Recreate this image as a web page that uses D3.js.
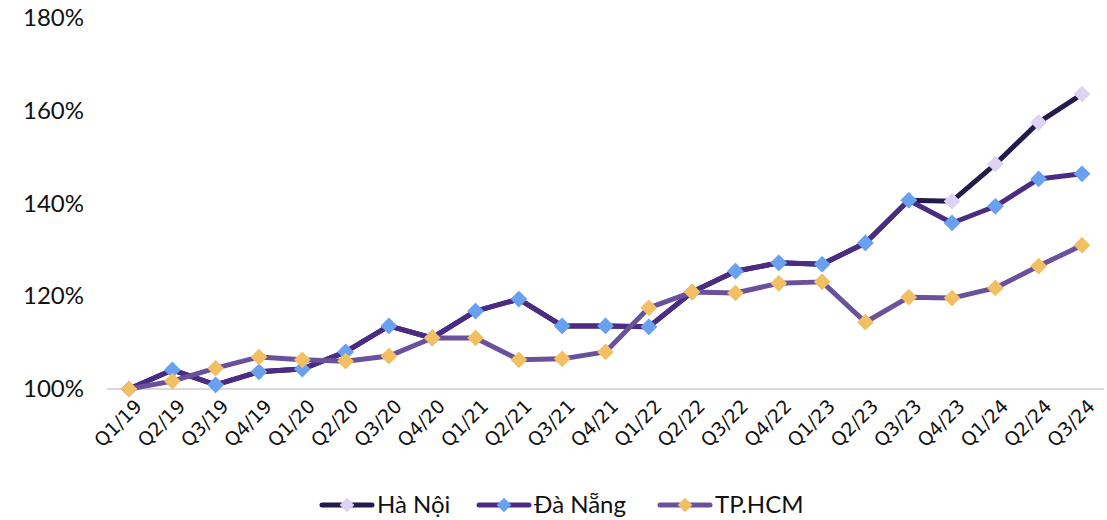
<!DOCTYPE html>
<html>
<head>
<meta charset="utf-8">
<script src="https://cdn.jsdelivr.net/npm/d3@7"></script>
<style>
  body { margin: 0; background: #fff; }
  svg { display: block; }
  .xlab { font-family: "DejaVu Sans", Verdana, sans-serif; font-size: 19px; }
</style>
</head>
<body>
<svg id="chart" width="1107" height="520"></svg>
<script>
var svg = d3.select("#chart");

var quarters = ["Q1/19","Q2/19","Q3/19","Q4/19","Q1/20","Q2/20","Q3/20","Q4/20",
  "Q1/21","Q2/21","Q3/21","Q4/21","Q1/22","Q2/22","Q3/22","Q4/22",
  "Q1/23","Q2/23","Q3/23","Q4/23","Q1/24","Q2/24","Q3/24"];

var haNoi = [100, 104.1, 100.9, 103.7, 104.3, 108, 113.6, 111, 116.8, 119.4, 113.6, 113.6,
  113.4, 120.9, 125.4, 127.2, 126.9, 131.5, 140.7, 140.5, 148.5, 157.5, 163.6];
var daNang = [100, 104.1, 100.9, 103.7, 104.3, 108, 113.6, 111, 116.8, 119.4, 113.6, 113.6,
  113.4, 120.9, 125.4, 127.2, 126.9, 131.5, 140.7, 135.8, 139.4, 145.3, 146.4];
var hcm = [100, 101.7, 104.5, 106.9, 106.3, 106.0, 107.1, 111, 111, 106.3, 106.5, 108,
  117.5, 120.9, 120.7, 122.8, 123.1, 114.4, 119.8, 119.6, 121.8, 126.5, 131];

var yTicks = [100, 120, 140, 160, 180];

var series = [
  {name: "Hà Nội", values: haNoi, line: "#241a4c", marker: "#ddd3f3"},
  {name: "Đà Nẵng", values: daNang, line: "#4b2c85", marker: "#6aa0f0"},
  {name: "TP.HCM", values: hcm, line: "#6a519c", marker: "#f3bf63"}
];

// plot box (named to avoid window.top)
var plotLeft = 107, plotRight = 1104, plotTop = 18, plotBottom = 389;

var xScale = d3.scalePoint()
  .domain(quarters)
  .range([129, 1082]);

var yScale = d3.scaleLinear()
  .domain([100, 180])
  .range([plotBottom, plotTop]);

// y labels
var yAxis = d3.axisLeft(yScale)
  .tickValues(yTicks)
  .tickSize(0)
  .tickPadding(0)
  .tickFormat(function(d){ return d + "%"; });

var yg = svg.append("g")
  .attr("transform", "translate(84,0)")
  .call(yAxis);
yg.select(".domain").remove();
yg.selectAll("text")
  .attr("fill", "#111")
  .style("font-family", "Lato, 'Noto Sans', sans-serif")
  .style("font-size", "24px");

// baseline
svg.append("line")
  .attr("x1", plotLeft).attr("x2", plotRight)
  .attr("y1", yScale(100)).attr("y2", yScale(100))
  .attr("stroke", "#d9d9d9")
  .attr("stroke-width", 2);

// x labels, rotated
var xAxis = d3.axisBottom(xScale).tickSize(0).tickPadding(0);
var xg = svg.append("g")
  .attr("transform", "translate(0," + (plotBottom + 12) + ")")
  .attr("font-family", null)
  .attr("font-size", null)
  .call(xAxis);
xg.attr("font-family", null).attr("font-size", null);
xg.select(".domain").remove();
xg.selectAll(".tick text")
  .attr("class", "xlab")
  .attr("fill", "#111")
  .attr("text-anchor", "end")
  .attr("x", 5)
  .attr("y", 0)
  .attr("dy", "0.75em")
  .attr("transform", "rotate(-45)");

var line = d3.line()
  .x(function(d, i){ return xScale(quarters[i]); })
  .y(function(d){ return yScale(d); });

var diamond = d3.symbol().type(d3.symbolSquare).size(140);

series.forEach(function(s){
  var g = svg.append("g");
  g.append("path")
    .datum(s.values)
    .attr("d", line)
    .attr("fill", "none")
    .attr("stroke", s.line)
    .attr("stroke-width", 5)
    .attr("stroke-linejoin", "round");
  g.selectAll("path.marker")
    .data(s.values)
    .enter().append("path")
    .attr("class", "marker")
    .attr("d", diamond)
    .attr("transform", function(d, i){
      return "translate(" + xScale(quarters[i]) + "," + yScale(d) + ") rotate(45)";
    })
    .attr("fill", s.marker);
});

// legend
var legendX = [320, 477, 658];
var legend = svg.append("g").attr("transform", "translate(0,505)");
series.forEach(function(s, i){
  var lg = legend.append("g").attr("transform", "translate(" + legendX[i] + ",0)");
  lg.append("line")
    .attr("x1", 2).attr("x2", 52)
    .attr("stroke", s.line)
    .attr("stroke-width", 5)
    .attr("stroke-linecap", "round");
  lg.append("path")
    .attr("d", d3.symbol().type(d3.symbolSquare).size(108))
    .attr("transform", "translate(27,0) rotate(45)")
    .attr("fill", s.marker);
  lg.append("text")
    .attr("x", 57)
    .attr("dy", "0.35em")
    .attr("fill", "#111")
    .style("font-family", "Lato, 'Noto Sans', sans-serif")
    .style("font-size", "24px")
    .text(s.name);
});
</script>
</body>
</html>
